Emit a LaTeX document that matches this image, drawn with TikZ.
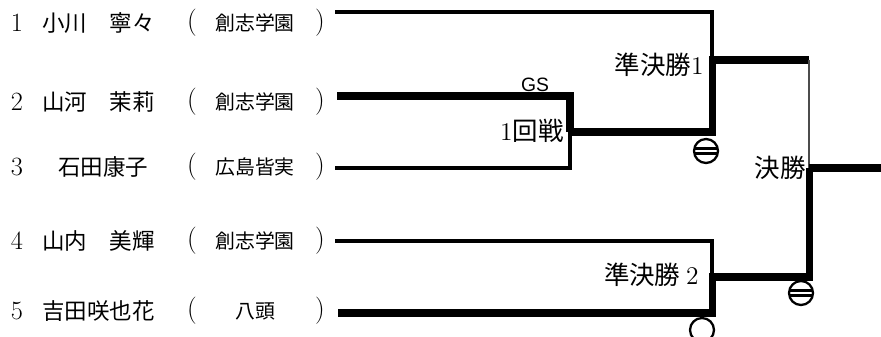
\documentclass[tikz,border=0pt]{standalone}
\usepackage{fontspec}
\newfontfamily\jpfont{Noto Sans CJK JP}
\newfontfamily\gsfont{Liberation Sans}
\usetikzlibrary{positioning,calc}

\begin{document}
\begin{tikzpicture}[x=0.02cm,y=-0.02cm,
    thinline/.style={line width=1.8pt},
    thickline/.style={line width=4pt},
    hairline/.style={line width=1.1pt,black!70},
    numlbl/.style={font=\fontsize{15}{16}\selectfont,inner sep=0pt},
    namelbl/.style={font=\fontsize{12.8}{14}\jpfont,inner sep=0pt,anchor=west},
    schoollbl/.style={font=\fontsize{11.3}{13}\jpfont,inner sep=0pt},
    paren/.style={font=\fontsize{15.5}{16}\selectfont,inner sep=0pt},
    roundlbl/.style={font=\fontsize{14.5}{16}\jpfont,inner sep=0pt,anchor=east},
    winmark/.style={circle,draw,line width=1.3pt,minimum size=0.48cm,inner sep=0pt},
    drawmark/.style={winmark,path picture={
        \draw[line width=1.2pt] ([yshift=1.4pt]path picture bounding box.west)
            -- ([yshift=1.4pt]path picture bounding box.east);
        \draw[line width=1.2pt] ([yshift=-1.4pt]path picture bounding box.west)
            -- ([yshift=-1.4pt]path picture bounding box.east);}}]

\useasboundingbox (0,0) rectangle (881,336);

% Players
\foreach \i/\y/\nx/\pname/\school in {1/23/42/小川　寧々/創志学園,
    2/102/42/山河　茉莉/創志学園, 3/167/58/石田康子/広島皆実,
    4/241/42/山内　美輝/創志学園, 5/311/42/吉田咲也花/八頭} {
    \node[numlbl] (n\i) at (17,\y) {\i};
    \node[namelbl] (name\i) at (\nx,\y) {\pname};
    \node[paren] (lp\i) at (192,\y) {(};
    \node[schoollbl] (sc\i) at (255,\y) {\school};
    \node[paren] (rp\i) at (320,\y) {)};
}

% Bracket points
\coordinate (s1) at (335,12);
\coordinate (s2) at (337,96);
\coordinate (s3) at (335,168);
\coordinate (s4) at (335,241);
\coordinate (s5) at (338,313);
\coordinate (r1) at (570,132);
\coordinate (sf1) at (712,60);
\coordinate (sf2) at (712,277);
\coordinate (fin) at (809,168);
\coordinate (win) at (890,168);

% Lines
\draw[thinline] (s1) -| (sf1);
\draw[thinline] (s3) -| (r1);
\draw[thickline] (s2) -| (r1);
\draw[thickline] (r1) -| (sf1) -- (sf1 -| fin);
\draw[hairline] (sf1 -| fin) -- (fin);
\draw[thinline] (s4) -| (sf2);
\draw[thickline] (s5) -| (sf2) -| (fin);
\draw[thickline] (fin) -- (win);

% Labels
\node[font=\fontsize{11}{12}\gsfont,inner sep=0pt] (gs) at (535,85) {GS};
\node[roundlbl] (lr1) at (564,131) {{\rmfamily 1}回戦};
\node[roundlbl] (lsf1) at (704,65) {準決勝{\rmfamily 1}};
\node[roundlbl] (lfin) at (806,168) {決勝};
\node[roundlbl] (lsf2) at (699,275) {準決勝 {\rmfamily 2}};

% Marks
\node[drawmark] (m1) at (706,151) {};
\node[drawmark] (m2) at (801,293) {};
\node[winmark] (m3) at (702,330) {};

\end{tikzpicture}
\end{document}
